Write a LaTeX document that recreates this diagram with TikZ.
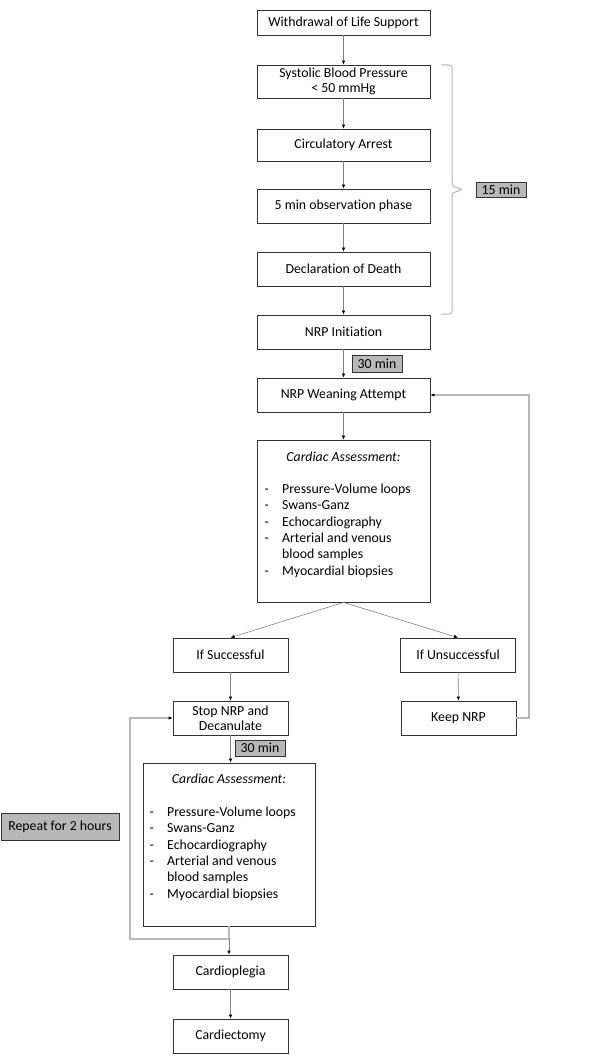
\documentclass[tikz,border=0pt]{standalone}
\usepackage{fontspec}
\setmainfont{Carlito}[Ligatures=NoCommon]
\usetikzlibrary{arrows.meta}
\begin{document}
\begin{tikzpicture}[x=1pt,y=-1pt,
  font=\fontsize{13.8}{16.3}\selectfont,
  box/.style={draw=black!80, line width=0.8pt, inner sep=0pt, minimum width=#1, minimum height=34pt, align=center, fill=white},
  box/.default=173pt,
  tag/.style={draw=black!80, line width=0.8pt, fill=black!28, inner sep=0pt, minimum width=50pt, minimum height=16pt},
  conn/.style={draw=black!50, line width=0.6pt, -{Latex[length=4pt,width=3.5pt,color=black]}},
  loopline/.style={draw=black!28, line width=1.1pt},
  looparrow/.style={draw=black!28, line width=1.1pt, -{Latex[length=4pt,width=3.5pt,color=black]}},
  listt/.style={anchor=base west, inner sep=0pt, align=left}
]
\useasboundingbox (0,0) rectangle (594,1064);
\fill[white] (0,0) rectangle (594,1064);

% main column
\node[box, minimum height=25pt] (w) at (343.5,22.5) {Withdrawal of Life Support};
\node[box, minimum height=33pt] (s) at (343.5,81.5) {Systolic Blood Pressure\\[-1pt]{<} 50 mmHg};
\node[box, minimum height=32pt] (c) at (343.5,145) {Circulatory Arrest};
\node[box] (o) at (343.5,206) {5 min observation phase};
\node[box] (d) at (343.5,269) {Declaration of Death};
\node[box] (n) at (343.5,332) {NRP Initiation};
\node[box] (wa) at (343.5,395) {NRP Weaning Attempt};
\node[box, minimum height=162pt] (ca) at (343.5,521) {};
\node[inner sep=0pt] (cat) at (343.5,457) {\itshape Cardiac Assessment:};
\node[listt] (cal) at (264.5,493.5) {\begin{tabular}[t]{@{}p{17.5pt}@{}l@{}}
-&Pressure-Volume loops\\
-&Swans-Ganz\\
-&Echocardiography\\
-&Arterial and venous\\
&blood samples\\
-&Myocardial biopsies
\end{tabular}};

% branches
\node[box=115pt] (succ) at (230.5,655) {If Successful};
\node[box=115pt] (unsucc) at (458,655) {If Unsuccessful};
\node[box=115pt] (stop) at (230.5,718) {Stop NRP and\\[-1pt]Decanulate};
\node[box=115pt] (keep) at (458.5,718) {Keep NRP};
\node[box=172pt, minimum height=163pt] (ca2) at (229,844.5) {};
\node[inner sep=0pt] (ca2t) at (229,779) {\itshape Cardiac Assessment:};
\node[listt] (ca2l) at (149.5,816.5) {\begin{tabular}[t]{@{}p{17.5pt}@{}l@{}}
-&Pressure-Volume loops\\
-&Swans-Ganz\\
-&Echocardiography\\
-&Arterial and venous\\
&blood samples\\
-&Myocardial biopsies
\end{tabular}};
\node[box=115pt] (cp) at (230.5,972) {Cardioplegia};
\node[box=115pt] (ce) at (230.5,1036) {Cardiectomy};

% tags
\node[tag, minimum height=15pt] (t15) at (501,189.5) {15 min};
\node[tag, minimum height=17pt] (t30a) at (377,363.5) {30 min};
\node[tag] (t30b) at (260,748) {30 min};
\node[tag, minimum width=118pt, minimum height=27pt] (rep) at (60,826.5) {Repeat for 2 hours};

% connectors
\draw[conn] (w) -- (s);
\draw[conn] (s) -- (c);
\draw[conn] (c) -- (o);
\draw[conn] (o) -- (d);
\draw[conn] (d) -- (n);
\draw[conn] (n) -- (wa);
\draw[conn] (wa) -- (ca);
\draw[conn] (ca.south) -- (succ.north);
\draw[conn] (ca.south) -- (unsucc.north);
\draw[conn] (succ) -- (stop);
\draw[conn] (unsucc) -- (keep);
\draw[conn] (stop.south) -- (stop.south |- ca2.north);
\draw[conn] (ca2.south) -- (ca2.south |- cp.north);
\draw[conn] (cp) -- (ce);

% loops
\coordinate (rl) at (529,718);
\draw[looparrow] (keep.east) -- (rl) |- (wa.east);
\coordinate (lb) at (229,939);
\coordinate (ll) at (130,939);
\draw[loopline] (ca2.south) -- (lb);
\draw[looparrow] (lb) -- (ll) |- (stop.west);

% brace
\draw[draw=black!28, line width=1pt, rounded corners=3pt]
  (441,65) -- (452,65) -- (452,186) -- (463,189.5) -- (452,193) -- (452,314) -- (441,314);
\end{tikzpicture}
\end{document}
